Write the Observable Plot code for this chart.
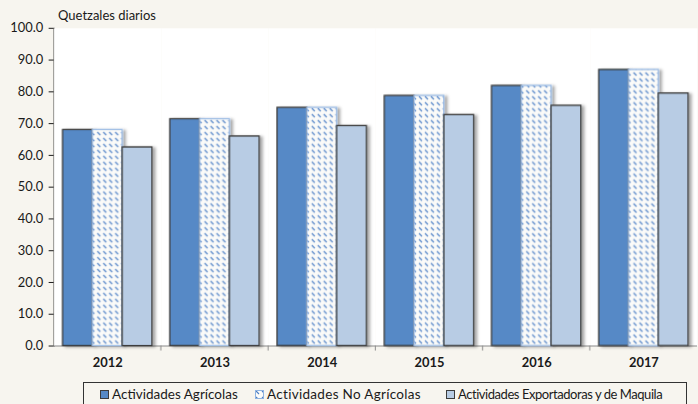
<!DOCTYPE html>
<html><head><meta charset="utf-8">
<script src="https://cdn.jsdelivr.net/npm/d3@7"></script>
<script src="https://cdn.jsdelivr.net/npm/@observablehq/plot@0.6"></script>
<style>
html,body{margin:0;padding:0;background:#f7f5ef;overflow:hidden;width:698px;height:404px;}
#wrap{position:relative;width:698px;height:404px;font-family:Lato,"Open Sans",sans-serif;color:#1a1a1a;}
#title{position:absolute;left:58px;top:7px;font-size:13px;}
#chart{position:absolute;left:0;top:0;}
#legend{position:absolute;left:83px;top:382px;width:604px;height:26px;border:1px solid #333;box-sizing:border-box;font-size:13.5px;}
.item{position:absolute;top:3px;white-space:nowrap;}
.sw{display:inline-block;width:9px;height:9px;margin-right:3px;vertical-align:0px;box-sizing:border-box;}
</style></head>
<body>
<svg width="0" height="0" style="position:absolute">
  <defs>
    <pattern id="hatch" width="6" height="6" patternUnits="userSpaceOnUse">
      <rect width="6" height="6" fill="#fbfbf9"/>
      <line x1="1" y1="1" x2="4" y2="4" stroke="#4a7ec6" stroke-width="1.1"/>
    </pattern>
    <filter id="shadow" x="-20%" y="-5%" width="150%" height="115%">
      <feDropShadow dx="3" dy="1" stdDeviation="1.5" flood-color="#000" flood-opacity="0.35"/>
    </filter>
  </defs>
</svg>
<div id="wrap">
  <div id="chart"></div>
  <div id="title">Quetzales diarios</div>
  <div id="legend"></div>
</div>
<script>
const years = ["2012","2013","2014","2015","2016","2017"];
const series = ["Actividades Agrícolas","Actividades No Agrícolas","Actividades Exportadoras y de Maquila"];
const agricolas = [68.00, 71.40, 74.97, 78.72, 81.87, 86.90];
const noAgricolas = [68.00, 71.40, 74.97, 78.72, 81.87, 86.90];
const maquila = [62.50, 65.95, 69.24, 72.70, 75.61, 79.48];
const yTicks = [0,10,20,30,40,50,60,70,80,90,100];

const fills = ["#5689c6","url(#hatch)","#b8cce4"];
const strokes = ["#3c3c3c","#9dbde6","#3c3c3c"];
const valueArrays = [agricolas, noAgricolas, maquila];

const rows = [];
series.forEach((s, i) => years.forEach((y, j) => rows.push({year: y, series: s, value: valueArrays[i][j]})));

const plot = Plot.plot({
  width: 703, height: 380,
  marginLeft: 53, marginRight: 0, marginTop: 28, marginBottom: 32,
  style: {background: "transparent", fontFamily: "Lato, 'Open Sans', sans-serif", fontSize: "13px", color: "#1a1a1a"},
  fx: {domain: years, padding: 0, label: null, axis: "bottom", tickSize: 0, tickPadding: 12},
  x: {domain: series, axis: null, paddingInner: 0, paddingOuter: 0.25},
  y: {domain: [0, 100], ticks: yTicks, tickFormat: d3.format(".1f"), label: null, tickSize: 5, tickPadding: 6, line: true},
  marks: [
    Plot.frame({fill: "white", stroke: "none"}),
    Plot.ruleY([0], {stroke: "#8a8a8a", strokeWidth: 1.2}),
    ...series.map((s, i) => Plot.barY(rows.filter(d => d.series === s), {
      fx: "year", x: "series", y: "value",
      fill: fills[i], stroke: strokes[i], strokeWidth: 1.3
    }))
  ]
});
document.getElementById("chart").appendChild(plot);

const svg = d3.select(plot);
svg.selectAll("g[aria-label='bar']").attr("filter", "url(#shadow)");
svg.selectAll("g[aria-label='fx-axis tick label'] text, g[aria-label='fx-axis tick label']").attr("font-weight", "bold");
svg.selectAll("g[aria-label='y-axis tick'], g[aria-label='y-axis line']").attr("stroke", "#8a8a8a");

// group boundary ticks from the fx scale
const fx = plot.scale("fx");
const y = plot.scale("y");
const y0 = y.apply(0);
svg.append("g").attr("stroke", "#8a8a8a").selectAll("line")
  .data(years.slice(1)).join("line")
  .attr("x1", d => fx.apply(d)).attr("x2", d => fx.apply(d))
  .attr("y1", y0).attr("y2", y0 + 5);

// legend
const legend = document.getElementById("legend");
const lx = [16, 171, 362];
const ls = ["0px", "0.3px", "-0.45px"];
series.forEach((s, i) => {
  const it = document.createElement("div");
  it.className = "item";
  it.style.left = lx[i] + "px";
  const sw = document.createElement("span");
  sw.className = "sw";
  if (i === 1) {
    sw.innerHTML = '<svg width="9" height="9" style="display:block"><rect x="0.5" y="0.5" width="8" height="8" fill="url(#hatch)" stroke="#8fb3e0"/></svg>';
  } else {
    sw.style.background = fills[i];
    sw.style.border = "1px solid #3c3c3c";
  }
  it.appendChild(sw);
  const t = document.createElement("span");
  t.textContent = s;
  t.style.letterSpacing = ls[i];
  if (i === 2) t.style.fontSize = "13px";
  it.appendChild(t);
  legend.appendChild(it);
});
</script>
</body></html>
